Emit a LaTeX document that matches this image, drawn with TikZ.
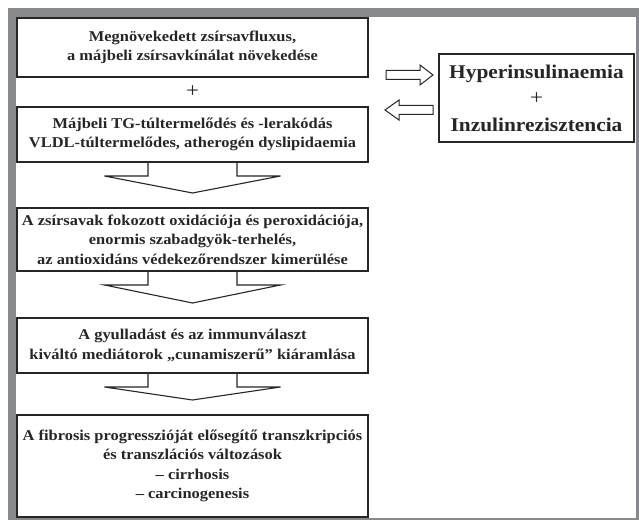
\documentclass[tikz,border=0pt]{standalone}
\usepackage{fontspec}
\setmainfont[FakeStretch=1.1]{Liberation Serif}
\usetikzlibrary{calc}
\definecolor{framegray}{RGB}{136,137,141}
\definecolor{ink}{RGB}{38,38,38}
\tikzset{
  box/.style={draw=ink, line width=1.8bp, fill=white, inner sep=0pt, outer sep=0pt,
    align=center, text=ink, font=\fontsize{15}{19.5}\selectfont\bfseries, minimum width=351bp},
  rbox/.style={draw=ink, line width=2.4bp, fill=white, inner sep=0pt, outer sep=0pt,
    align=center, text=ink, font=\fontsize{19.5}{26.5}\selectfont\bfseries,
    minimum width=195bp, minimum height=88bp},
  blockarrow/.style={draw=ink, line width=1.1bp, line join=miter},
  sidearrow/.style={draw=ink, line width=1bp, fill=white, line join=miter},
  plussign/.style={text=ink, font=\fontsize{21}{21}\selectfont, inner sep=0pt}
}
\begin{document}
\begin{tikzpicture}[x=1bp,y=-1bp]
\useasboundingbox (0,0) rectangle (639,520);
\fill[white] (0,0) rectangle (639,520);
\fill[framegray] (8,8) rectangle (639,520);
\fill[white] (16,17) rectangle (636,518);

\node[box, minimum height=59bp] (b1) at (192.5,47.5)
  {Megnövekedett zsírsavfluxus,\\a májbeli zsírsavkínálat növekedése};
\node[plussign] (plus) at (192.5,92) {+};
\node[box, minimum height=55bp] (b2) at (192.5,134.5)
  {Májbeli TG-túltermelődés és -lerakódás\\VLDL-túltermelődes, atherogén dyslipidaemia};
\node[box, minimum height=63bp] (b3) at (192.5,239.5)
  {A zsírsavak fokozott oxidációja és peroxidációja,\\enormis szabadgyök-terhelés,\\az antioxidáns védekezőrendszer kimerülése};
\node[box, minimum height=55bp] (b4) at (192.5,345.5)
  {A gyulladást és az immunválaszt\\kiváltó mediátorok „cunamiszerű” kiáramlása};
\node[box, minimum height=102bp] (b5) at (192.5,466)
  {A fibrosis progresszióját elősegítő transzkripciós\\és transzlációs változások\\– cirrhosis\\– carcinogenesis};

\node[rbox] (r) at (536.5,98)
  {Hyperinsulinaemia\\{\mdseries\fontsize{21}{26.5}\selectfont +}\\Inzulinrezisztencia};

\foreach \s/\t in {b2/b3,b3/b4,b4/b5}{
  \draw[blockarrow] ($(\s.south)+(-44.5,0)$) -- ++(0,14) -- ($(\s.south)+(-88,14)$)
    -- ($(\t.north)+(0,-15)$) -- ($(\s.south)+(88,14)$) -- ($(\s.south)+(44.5,14)$) -- ++(0,-14);
}

\coordinate (rtip) at ($(r.west)+(-6,-23)$);
\coordinate (ltip) at ($(r.west)+(-54,12)$);
\draw[sidearrow] (rtip) -- ++(-13,-10) -- ++(0,5.5) -- ++(-34,0) -- ++(0,9) -- ++(34,0) -- ++(0,5.5) -- cycle;
\draw[sidearrow] (ltip) -- ++(14,-10) -- ++(0,5.5) -- ++(34,0) -- ++(0,9) -- ++(-34,0) -- ++(0,5.5) -- cycle;
\end{tikzpicture}
\end{document}
